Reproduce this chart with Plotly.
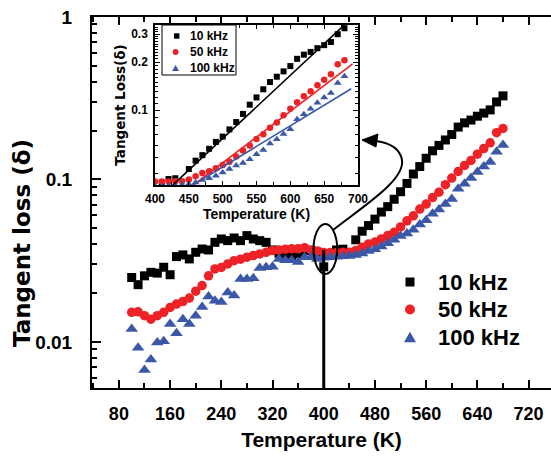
import plotly.graph_objects as go

# Temperature sweep (K)
temperature = [100, 110, 120, 130, 140, 150, 160, 170, 180, 190,
               200, 210, 220, 230, 240, 250, 260, 270, 280, 290,
               300, 310, 320, 330, 340, 350, 360, 370, 380, 390,
               400, 410, 420, 430, 440, 450, 460, 470, 480, 490,
               500, 510, 520, 530, 540, 550, 560, 570, 580, 590,
               600, 610, 620, 630, 640, 650, 660, 670, 680]

# Tangent loss at 10 kHz, 50 kHz and 100 kHz
loss_10k = [0.0249, 0.0225, 0.0255, 0.0268, 0.0265, 0.0288, 0.0259, 0.0335, 0.0343, 0.0324,
            0.0356, 0.0373, 0.0368, 0.0410, 0.0430, 0.0420, 0.0436, 0.0420, 0.0451, 0.0430,
            0.0420, 0.0410, 0.0368, 0.0351, 0.0340, 0.0340, 0.0350, 0.0365, 0.0365, 0.0357,
            0.0290, 0.0350, 0.0368, 0.0372, None, 0.0425, 0.0480, 0.0520, 0.0570, 0.0630,
            0.0680, 0.0755, 0.0840, 0.0945, 0.108, 0.120, 0.135, 0.150, 0.162, 0.175,
            0.189, 0.210, 0.223, 0.232, 0.245, 0.256, 0.268, 0.300, 0.327]
loss_50k = [0.0152, 0.0153, 0.0145, 0.0138, 0.0145, 0.0152, 0.0163, 0.0171, 0.0177, 0.0186,
            0.0205, 0.0222, 0.0255, 0.0281, 0.0287, 0.0302, 0.0316, 0.0323, 0.0332, 0.0340,
            0.0348, 0.0356, 0.0365, 0.0368, 0.0372, 0.0374, 0.0374, 0.0380, 0.0368, 0.0362,
            0.0355, 0.0355, 0.0355, 0.0356, 0.0356, 0.0365, 0.0383, 0.0401, 0.0412, 0.0430,
            0.0451, 0.0473, 0.0510, 0.0556, 0.0597, 0.0657, 0.0705, 0.0773, 0.0835, 0.0928,
            0.102, 0.112, 0.122, 0.131, 0.143, 0.155, 0.168, 0.194, 0.206]
loss_100k = [0.0120, 0.0092, 0.0067, 0.0078, 0.0099, 0.0101, 0.0129, 0.0113, 0.0138, 0.0129,
             0.0145, 0.0164, 0.0190, 0.0179, 0.0176, 0.0201, 0.0193, 0.0244, 0.0244, 0.0246,
             0.0285, 0.0288, 0.0290, 0.0324, 0.0318, 0.0318, 0.0310, 0.0332, 0.0332, 0.0324,
             0.0330, 0.0332, 0.0334, 0.0336, 0.0338, 0.0342, 0.0350, 0.0362, 0.0372, 0.0386,
             0.0405, 0.0425, 0.0448, 0.0464, 0.0490, 0.0527, 0.0560, 0.0615, 0.0654, 0.0706,
             0.0757, 0.0875, 0.094, 0.102, 0.111, 0.120, 0.128, 0.148, 0.163]

# Exponential fits in the high-temperature region (end points of each straight log line)
fit_10k_T = [424, 681]
fit_10k_loss = [0.033, 0.347]
fit_50k_T = [456, 692]
fit_50k_loss = [0.0335, 0.195]
fit_100k_T = [455, 690]
fit_100k_loss = [0.0335, 0.136]

series_names = ["10 kHz", "50 kHz", "100 kHz"]

BLACK = "#000000"
RED = "#EC2227"
BLUE = "#3B57A7"
FONT = "Liberation Sans, Arial, Helvetica, sans-serif"
WIDE = "DejaVu Sans, Verdana, sans-serif"

styles = [
    (loss_10k, "square", BLACK, 9, 6),
    (loss_50k, "circle", RED, 9.5, 6.5),
    (loss_100k, "triangle-up", BLUE, 11, 7),
]
fits = [(fit_10k_T, fit_10k_loss, BLACK), (fit_50k_T, fit_50k_loss, RED),
        (fit_100k_T, fit_100k_loss, BLUE)]

fig = go.Figure()

for name, (vals, sym, col, size_main, size_inset) in zip(series_names, styles):
    fig.add_trace(go.Scatter(
        x=temperature, y=vals, mode="markers", name=name, showlegend=False,
        marker=dict(symbol=sym, color=col, size=size_main, line=dict(width=0)),
        xaxis="x", yaxis="y"))

for name, (vals, sym, col, size_main, size_inset) in zip(series_names, styles):
    fig.add_trace(go.Scatter(
        x=temperature, y=vals, mode="markers", name=name, showlegend=False,
        marker=dict(symbol=sym, color=col, size=size_inset, line=dict(width=0)),
        xaxis="x2", yaxis="y2"))

for name, (fx, fy, col) in zip(series_names, fits):
    fig.add_trace(go.Scatter(x=fx, y=fy, mode="lines", name=name + " fit", showlegend=False,
                             line=dict(color=col, width=1.6), xaxis="x2", yaxis="y2"))

# ---- geometry helpers for the annotation drawing (pixel -> paper) ----
L, R, T, B = 92, 551, 17, 388
W, H = R - L, B - T


def pxp(x, y):
    return (x - L) / W, (B - y) / H


def path_from(cmds, close=False):
    out = []
    for c, pts in cmds:
        coords = " ".join("%.4f,%.4f" % pxp(*p) for p in pts)
        out.append(c + coords)
    return " ".join(out) + (" Z" if close else "")


def rect(x0, y0, x1, y1, **kw):
    (a, b), (c, d) = pxp(x0, y1), pxp(x1, y0)
    return dict(type="rect", xref="paper", yref="paper", x0=a, y0=b, x1=c, y1=d, **kw)


def ellipse(x0, y0, x1, y1, **kw):
    d = rect(x0, y0, x1, y1, **kw)
    d["type"] = "circle"
    return d


def triangle(cx, cy, w, h, color):
    return dict(type="path", xref="paper", yref="paper",
                path=path_from([("M", [(cx, cy - h / 2)]), ("L", [(cx + w / 2, cy + h / 2)]),
                                ("L", [(cx - w / 2, cy + h / 2)])], close=True),
                fillcolor=color, line=dict(width=0))


shapes = []
annotations = []

# vertical marker at 400 K
shapes.append(dict(type="line", xref="x", yref="paper", x0=400, x1=400,
                   y0=0, y1=pxp(0, 250)[1], line=dict(color="black", width=3)))
# ellipse around the crossover
shapes.append(dict(type="circle", xref="x", yref="paper", x0=384, x1=421,
                   y0=pxp(0, 274)[1], y1=pxp(0, 224)[1],
                   line=dict(color="black", width=2)))
# curved arrow pointing at the inset
shapes.append(dict(type="path", xref="paper", yref="paper",
                   path=path_from([("M", [(333, 230)]),
                                   ("C", [(365, 205), (405, 180), (402, 160)]),
                                   ("C", [(400, 148), (390, 143), (376, 141)])]),
                   line=dict(color="black", width=2)))
shapes.append(dict(type="path", xref="paper", yref="paper",
                   path=path_from([("M", [(362, 140)]), ("L", [(378, 134)]),
                                   ("L", [(376, 147)])], close=True),
                   fillcolor="black", line=dict(color="black", width=1)))

# ---- main legend ----
main_rows = [282, 309.5, 337]
shapes.append(rect(405.5, main_rows[0] - 4.5, 414.5, main_rows[0] + 4.5,
                   fillcolor=BLACK, line=dict(width=0)))
shapes.append(ellipse(405, main_rows[1] - 5, 415, main_rows[1] + 5,
                      fillcolor=RED, line=dict(width=0)))
shapes.append(triangle(410, main_rows[2], 12, 10.5, BLUE))
for name, yrow in zip(series_names, main_rows):
    xp, yp = pxp(436, yrow)
    annotations.append(dict(xref="paper", yref="paper", x=xp, y=yp, text=name,
                            showarrow=False, xanchor="left", yanchor="middle",
                            font=dict(family=FONT, size=22, color="black", weight="bold")))

# ---- inset legend ----
shapes.append(rect(162, 25, 236, 75, fillcolor="white", line=dict(color="black", width=1)))
inset_rows = [36, 52, 68]
shapes.append(rect(174, inset_rows[0] - 2.7, 179.4, inset_rows[0] + 2.7,
                   fillcolor=BLACK, line=dict(width=0)))
shapes.append(ellipse(172.7, inset_rows[1] - 2.9, 178.5, inset_rows[1] + 2.9,
                      fillcolor=RED, line=dict(width=0)))
shapes.append(triangle(175.6, inset_rows[2], 7, 6, BLUE))
for name, yrow in zip(series_names, inset_rows):
    xp, yp = pxp(188, yrow)
    annotations.append(dict(xref="paper", yref="paper", x=xp, y=yp, text=name,
                            showarrow=False, xanchor="left", yanchor="middle",
                            font=dict(family=FONT, size=12, color="black", weight="bold")))

# main y title
xp, yp = pxp(22, 243)
annotations.append(dict(xref="paper", yref="paper", x=xp, y=yp, text="Tangent loss (\u03b4)",
                        textangle=-90, showarrow=False, xanchor="center", yanchor="middle",
                        font=dict(family=WIDE, size=23, color="black", weight="bold")))

major_log = [0.01, 0.1, 1]
minor_log = [m * e for e in (0.001, 0.01, 0.1) for m in range(2, 10)]
inset_major = [0.1, 0.2, 0.3]
inset_minor = [k / 100 for k in range(4, 35) if k not in (10, 20, 30)]

bold = dict(family=FONT, color="black", weight="bold")

fig.update_layout(
    width=551, height=461,
    margin=dict(l=L, r=0, t=T, b=461 - B),
    paper_bgcolor="white", plot_bgcolor="white",
    showlegend=False,
    shapes=shapes,
    annotations=annotations,
    xaxis=dict(
        range=[38, 755], tick0=0, dtick=80, ticks="inside", ticklen=8, tickwidth=2,
        tickcolor="black", showline=True, linewidth=2, linecolor="black", mirror="ticks",
        showgrid=False, zeroline=False, ticklabelstandoff=8, automargin=False,
        minor=dict(ticks="inside", ticklen=5, tickwidth=1.5, tick0=0, dtick=40,
                   tickcolor="black", showgrid=False),
        tickfont=dict(size=18, **bold),
        title=dict(text="Temperature (K)", font=dict(size=21, **bold), standoff=10),
    ),
    yaxis=dict(
        type="log", range=[-2.284, 0.0], tickmode="array", tickvals=major_log,
        ticktext=["0.01", "0.1", "1"], ticks="inside", ticklen=9, tickwidth=2,
        tickcolor="black", showline=True, linewidth=2, linecolor="black", mirror=False,
        showgrid=False, zeroline=False, ticklabelstandoff=14, automargin=False,
        minor=dict(ticks="inside", ticklen=5, tickwidth=1.5, tickmode="array",
                   tickvals=minor_log, tickcolor="black", showgrid=False),
        tickfont=dict(size=19, **bold),
    ),
    xaxis2=dict(
        domain=[pxp(155, 0)[0], pxp(358, 0)[0]], anchor="y2",
        range=[400, 700], tick0=400, dtick=50, ticks="inside", ticklen=4, tickwidth=1,
        tickcolor="black", showline=True, linewidth=1.5, linecolor="black", mirror="ticks",
        showgrid=False, zeroline=False, ticklabelstandoff=2, automargin=False,
        minor=dict(ticks="inside", ticklen=3, tickwidth=1, tick0=400, dtick=25,
                   tickcolor="black", showgrid=False),
        tickfont=dict(size=12, **bold),
        title=dict(text="Temperature (K)", font=dict(size=14, **bold), standoff=0),
    ),
    yaxis2=dict(
        domain=[pxp(0, 185)[1], pxp(0, 25)[1]], anchor="x2",
        type="log", range=[-1.472, -0.465], tickmode="array", tickvals=inset_major,
        ticktext=["0.1", "0.2", "0.3"], ticks="inside", ticklen=5, tickwidth=1,
        tickcolor="black", showline=True, linewidth=1.5, linecolor="black", mirror="ticks",
        showgrid=False, zeroline=False, ticklabelstandoff=3, automargin=False,
        minor=dict(ticks="inside", ticklen=3, tickwidth=1, tickmode="array",
                   tickvals=inset_minor, tickcolor="black", showgrid=False),
        tickfont=dict(size=12, **bold),
        title=dict(text="Tangent Loss(\u03b4)",
                   font=dict(family=WIDE, size=13.5, color="black", weight="bold"), standoff=2),
    ),
)

fig.write_html("out.html")
